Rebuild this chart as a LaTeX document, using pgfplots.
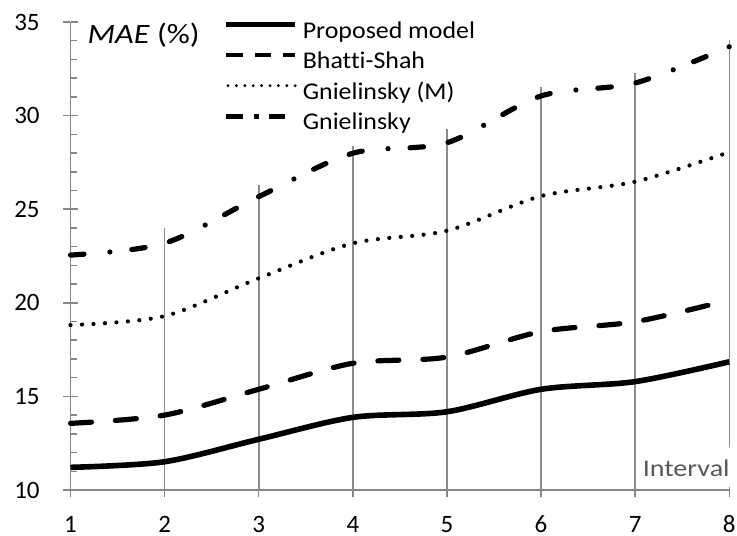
\documentclass[border=0pt]{standalone}
\usepackage{fontspec}
\setmainfont{Carlito}
\newfontfamily\legendfont{Carlito}[FakeStretch=1.08, Ligatures=NoCommon]
\newfontfamily\titlefont{Carlito}[FakeStretch=1.15]
\newfontfamily\intervalfont{Carlito}[FakeStretch=1.17]
\usepackage{pgfplots}
\pgfplotsset{compat=1.18}
\definecolor{axisgray}{HTML}{868686}
\definecolor{dropgray}{HTML}{8C8C8C}
\definecolor{labelgray}{HTML}{595959}
\begin{document}
\begin{tikzpicture}
\begin{axis}[
  at={(0,0)}, anchor=south west,
  scale only axis, width=329.4bp, height=234bp,
  xmin=1, xmax=8, ymin=10, ymax=35,
  axis lines=left,
  axis line style={-, draw=axisgray, line width=0.75bp},
  clip=false,
  xtick={1,...,8},
  ytick={10,15,...,35},
  minor y tick num=4,
  tick align=inside,
  major tick length=3.5bp, minor tick length=3bp,
  tick style={draw=axisgray, line width=0.75bp},
  xtick style={yshift=-3.5bp},
  extra y ticks={10,15,...,35},
  extra y tick style={ytick style={xshift=-3.5bp}, yticklabel={}},
  /pgf/number format/assume math mode=true,
  ticklabel style={font=\fontsize{12.5bp}{15bp}\selectfont, text=black},
  yticklabel style={anchor=east, inner sep=0pt, xshift=-15.25bp},
  xticklabel style={anchor=base, inner sep=0pt, yshift=-21bp},
  legend style={at={(0.2330,1.0125)}, anchor=north west, draw=none, fill=none,
    inner sep=0pt, outer sep=0pt, row sep=0pt, column sep=2.5bp,
    font=\legendfont\fontsize{12bp}{15bp}\selectfont,
    nodes={inner sep=0pt, text height=11bp, text depth=4.3bp}},
  legend cell align=left,
]
% drop lines from the highest curve down to the x axis
\addplot[draw=none, mark=none, forget plot,
  error bars/.cd, y dir=minus, y explicit, error mark=none,
  error bar style={draw=dropgray, line width=0.8bp}]
  coordinates {
    (2,24.00) -= (0,14.00)
    (3,26.30) -= (0,16.30)
    (4,28.40) -= (0,18.40)
    (5,29.30) -= (0,19.30)
    (6,31.55) -= (0,21.55)
    (7,32.25) -= (0,22.25)
    (8,34.05) -= (0,24.05)
  };
% Proposed model
\addplot[black, line width=2.8bp, smooth, forget plot] coordinates {
  (1,11.21) (2,11.51) (3,12.71) (4,13.88) (5,14.18) (6,15.38) (7,15.79) (8,16.85)};
% Bhatti-Shah
\addplot[black, line width=2.6bp, smooth, line cap=round,
  dash pattern=on 10.5bp off 12bp, forget plot] coordinates {
  (1,13.56) (2,14.00) (3,15.38) (4,16.77) (5,17.10) (6,18.46) (7,18.99) (8,20.15)};
% Gnielinsky (M)
\addplot[black, line width=2.1bp, smooth, line cap=round,
  dash pattern=on 0bp off 5.75bp, forget plot] coordinates {
  (1,18.81) (2,19.29) (3,21.31) (4,23.18) (5,23.85) (6,25.70) (7,26.47) (8,28.05)};
% Gnielinsky
\addplot[black, line width=2.6bp, smooth, line cap=round,
  dash pattern=on 6.75bp off 13bp on 0bp off 11bp on 6.75bp off 12.5bp, forget plot] coordinates {
  (1,22.55) (2,23.18) (3,25.67) (4,27.99) (5,28.55) (6,31.05) (7,31.74) (8,33.68)};

\addlegendimage{legend image code/.code={\draw[black, line width=2.2bp] (0bp,3.5bp) -- (34.5bp,3.5bp);}}
\addlegendentry{Proposed model}
\addlegendimage{legend image code/.code={\draw[black, line width=2.4bp, dash pattern=on 8.25bp off 6bp] (0bp,3.5bp) -- (34.5bp,3.5bp);}}
\addlegendentry{Bhatti-Shah}
\addlegendimage{legend image code/.code={\draw[black, line width=1.6bp, line cap=round, dash pattern=on 0bp off 4.2bp] (0.8bp,3.5bp) -- (34.5bp,3.5bp);}}
\addlegendentry{Gnielinsky (M)}
\addlegendimage{legend image code/.code={\draw[black, line width=2.4bp, dash pattern=on 8.5bp off 5.25bp on 2.5bp off 5.25bp on 8.5bp off 5bp] (0bp,3.5bp) -- (29.5bp,3.5bp);}}
\addlegendentry{Gnielinsky}

\node[anchor=base west, inner sep=0pt, font=\titlefont\fontsize{14bp}{16bp}\selectfont]
  at (rel axis cs:0.0255,0.9545) {\textit{MAE} (\%)};
\node[anchor=base east, fill=white, inner xsep=3bp, inner ysep=2bp,
  text height=13bp, text depth=3bp, text=labelgray,
  font=\intervalfont\fontsize{12bp}{14bp}\selectfont]
  at (rel axis cs:1.0102,0.0284) {Interval};
\end{axis}
\pgfresetboundingbox
\useasboundingbox (-35.25bp,-23bp) rectangle (333.25bp,245bp);
\end{tikzpicture}
\end{document}
